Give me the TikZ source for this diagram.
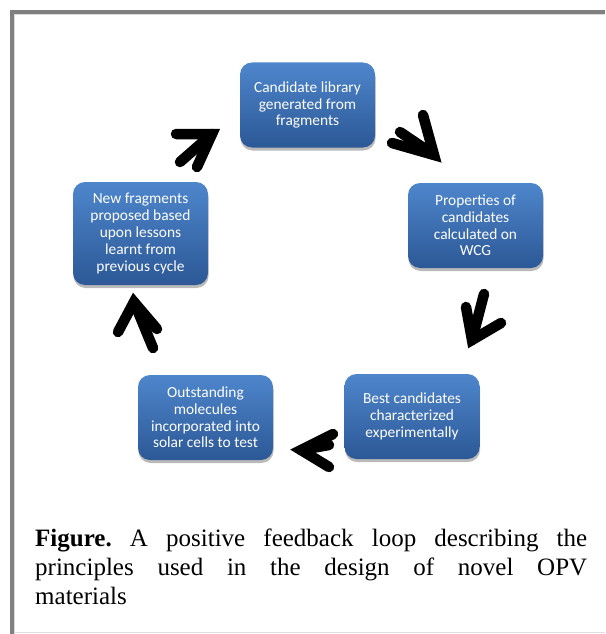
\documentclass[tikz,border=0pt]{standalone}
\usepackage{fontspec}
\setmainfont{Liberation Serif}
\newfontfamily\stagefont{Carlito}
\usetikzlibrary{shadows}

\definecolor{stagetop}{RGB}{78,134,204}
\definecolor{stagebot}{RGB}{44,88,150}
\definecolor{frame}{RGB}{128,128,128}

\tikzset{
    stage/.style={rounded corners=12pt, minimum width=135pt, minimum height=85pt,
        top color=stagetop, bottom color=stagebot, text=white, align=center,
        font=\stagefont\fontsize{15.4}{16.8}\selectfont,
        drop shadow={shadow xshift=0.5pt, shadow yshift=-3pt, fill=black!60, opacity=0.45}},
    loop arrow/.style={line width=10.5pt, line cap=round, line join=miter}
}

\begin{document}
\begin{tikzpicture}[x=1pt, y=-1pt]
    \useasboundingbox (0,0) rectangle (605,634);

    % Frame
    \draw[line width=4pt, frame] (12,634) -- (12,12) -- (605,12);
    \draw[line width=1pt, gray!30] (14.5,634) -- (14.5,14.5) -- (605,14.5);
    \draw[line width=1.5pt, gray!25] (14,632.5) -- (605,632.5);

    % Stages of the loop
    \node[stage] (lib) at (307.5,105) {Candidate library\\generated from\\fragments};
    \node[stage] (prop) at (475.5,225.5) {Properties of\\candidates\\calculated on\\WCG};
    \node[stage] (best) at (412,416.5) {Best candidates\\characterized\\experimentally};
    \node[stage] (out) at (205.5,417.5) {Outstanding\\molecules\\incorporated into\\solar cells to test};
    \node[stage, minimum height=103pt] (new) at (140.5,233.5) {New fragments\\proposed based\\upon lessons\\learnt from\\previous cycle};

    % Arrow new -> lib
    \draw[loop arrow] (176,134) -- (212,134) -- (197,167);
    \draw[loop arrow] (212,134) -- (180,162);

    % Arrow lib -> prop
    \draw[loop arrow] (423,115) -- (434,155) -- (392,143);
    \draw[loop arrow] (434,155) -- (400,132);

    % Arrow prop -> best
    \draw[loop arrow] (466,307) -- (472,340) -- (501,323);
    \draw[loop arrow] (472,340) -- (484,294);

    % Arrow best -> out
    \draw[loop arrow] (333,434) -- (301,450) -- (329,467);
    \draw[loop arrow] (301,450) -- (329,445);

    % Arrow out -> new
    \draw[loop arrow] (118,332) -- (134,302) -- (157,329);
    \draw[loop arrow] (134,302) -- (153,348);

    % Caption
    \node[anchor=north west, text width=552pt, align=justify, inner sep=0pt,
        font=\fontsize{25}{29}\selectfont\frenchspacing] (caption) at (35,529)
        {\textbf{Figure.} A positive feedback loop describing the\linebreak
         principles used in the design of novel OPV\linebreak materials};
\end{tikzpicture}
\end{document}
